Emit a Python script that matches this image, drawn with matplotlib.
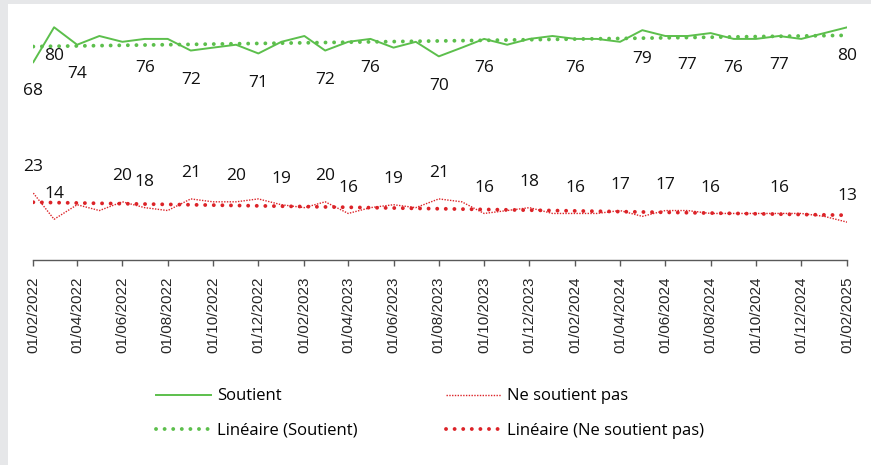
import matplotlib
matplotlib.use("Agg")
import matplotlib.pyplot as plt
import matplotlib.dates as mdates
from matplotlib.patches import Rectangle
import numpy as np
import pandas as pd

# monthly survey, Feb 2022 -> Feb 2025
months = pd.date_range("2022-02-01", "2025-02-01", freq="MS")

soutient = [68, 80, 74, 77, 75, 76, 76, 72, 73, 74, 71, 75, 77, 72, 75, 76, 73, 75, 70,
            73, 76, 74, 76, 77, 76, 76, 75, 79, 77, 77, 78, 76, 76, 77, 76, 78, 80]
ne_soutient_pas = [23, 14, 19, 17, 20, 18, 17, 21, 20, 20, 21, 19, 18, 20, 16, 18, 19, 18, 21,
                   20, 16, 17, 18, 16, 16, 16, 17, 15, 17, 17, 16, 16, 16, 16, 16, 15, 13]

# points that carry a value label
soutient_labelled = [0, 1, 2, 5, 7, 10, 13, 15, 18, 20, 24, 27, 29, 31, 33, 36]
nsp_labelled = [0, 1, 4, 5, 7, 9, 11, 13, 14, 16, 18, 20, 22, 24, 26, 28, 30, 33, 36]

GREEN = "#5cbf4c"
RED = "#dc2328"

fig = plt.figure(figsize=(8.71, 4.65), dpi=100)
fig.patch.set_facecolor("#e6e7e9")
fig.patches.append(Rectangle((8 / 871, 0), 1, 1 - 4 / 465, transform=fig.transFigure,
                             facecolor="white", edgecolor="none", zorder=-1))

ax = fig.add_axes([33.3 / 871, 205 / 465, 814 / 871, 256 / 465])
ax.set_facecolor("none")

idx = np.arange(len(months))
fit_s = np.polyval(np.polyfit(idx, soutient, 1), idx)
fit_n = np.polyval(np.polyfit(idx, ne_soutient_pas, 1), idx)

dots = (0, (0.01, 2.2))
ax.plot(months, soutient, color=GREEN, lw=1.4, label="Soutient", zorder=3)
ax.plot(months, fit_s, color=GREEN, lw=2.8, ls=dots, dash_capstyle="round",
        label="Linéaire (Soutient)", zorder=2)
ax.plot(months, ne_soutient_pas, color=RED, lw=1.0, ls=(0, (1, 1)), label="Ne soutient pas", zorder=3)
ax.plot(months, fit_n, color=RED, lw=2.8, ls=dots, dash_capstyle="round",
        label="Linéaire (Ne soutient pas)", zorder=2)

lbl_font = dict(family=["Open Sans", "DejaVu Sans"], size=12.5, color="#111111")
for i in soutient_labelled:
    ax.annotate(str(soutient[i]), (months[i], soutient[i]), xytext=(0, -21),
                textcoords="offset points", ha="center", va="center", **lbl_font)
for i in nsp_labelled:
    ax.annotate(str(ne_soutient_pas[i]), (months[i], ne_soutient_pas[i]), xytext=(0, 18.5),
                textcoords="offset points", ha="center", va="center", **lbl_font)

ax.set_xlim(months[0], months[-1])
ax.set_ylim(0, 88)
ax.set_yticks([])
for s in ["left", "right", "top"]:
    ax.spines[s].set_visible(False)
ax.spines["bottom"].set_color("#595959")
ax.spines["bottom"].set_linewidth(1)

ax.xaxis.set_major_locator(mdates.MonthLocator(bymonth=[2, 4, 6, 8, 10, 12], bymonthday=1))
ax.xaxis.set_major_formatter(mdates.DateFormatter("%d/%m/%Y"))
ax.tick_params(axis="x", length=4, width=1, color="#595959", pad=8)
for t in ax.get_xticklabels():
    t.set_rotation(90)
    t.set_family(["Liberation Sans", "DejaVu Sans"])
    t.set_fontsize(11)
    t.set_color("#262626")

h, l = ax.get_legend_handles_labels()
fig.legend(h, l, ncol=2, loc="upper left",
           bbox_to_anchor=(148 / 871, 1 - 380 / 465), frameon=False, borderpad=0,
           handlelength=3.3, handletextpad=0.35, columnspacing=5.3, labelspacing=1.1,
           prop=dict(family=["Open Sans", "DejaVu Sans"], size=12))

fig.savefig("out.png", dpi=100)
